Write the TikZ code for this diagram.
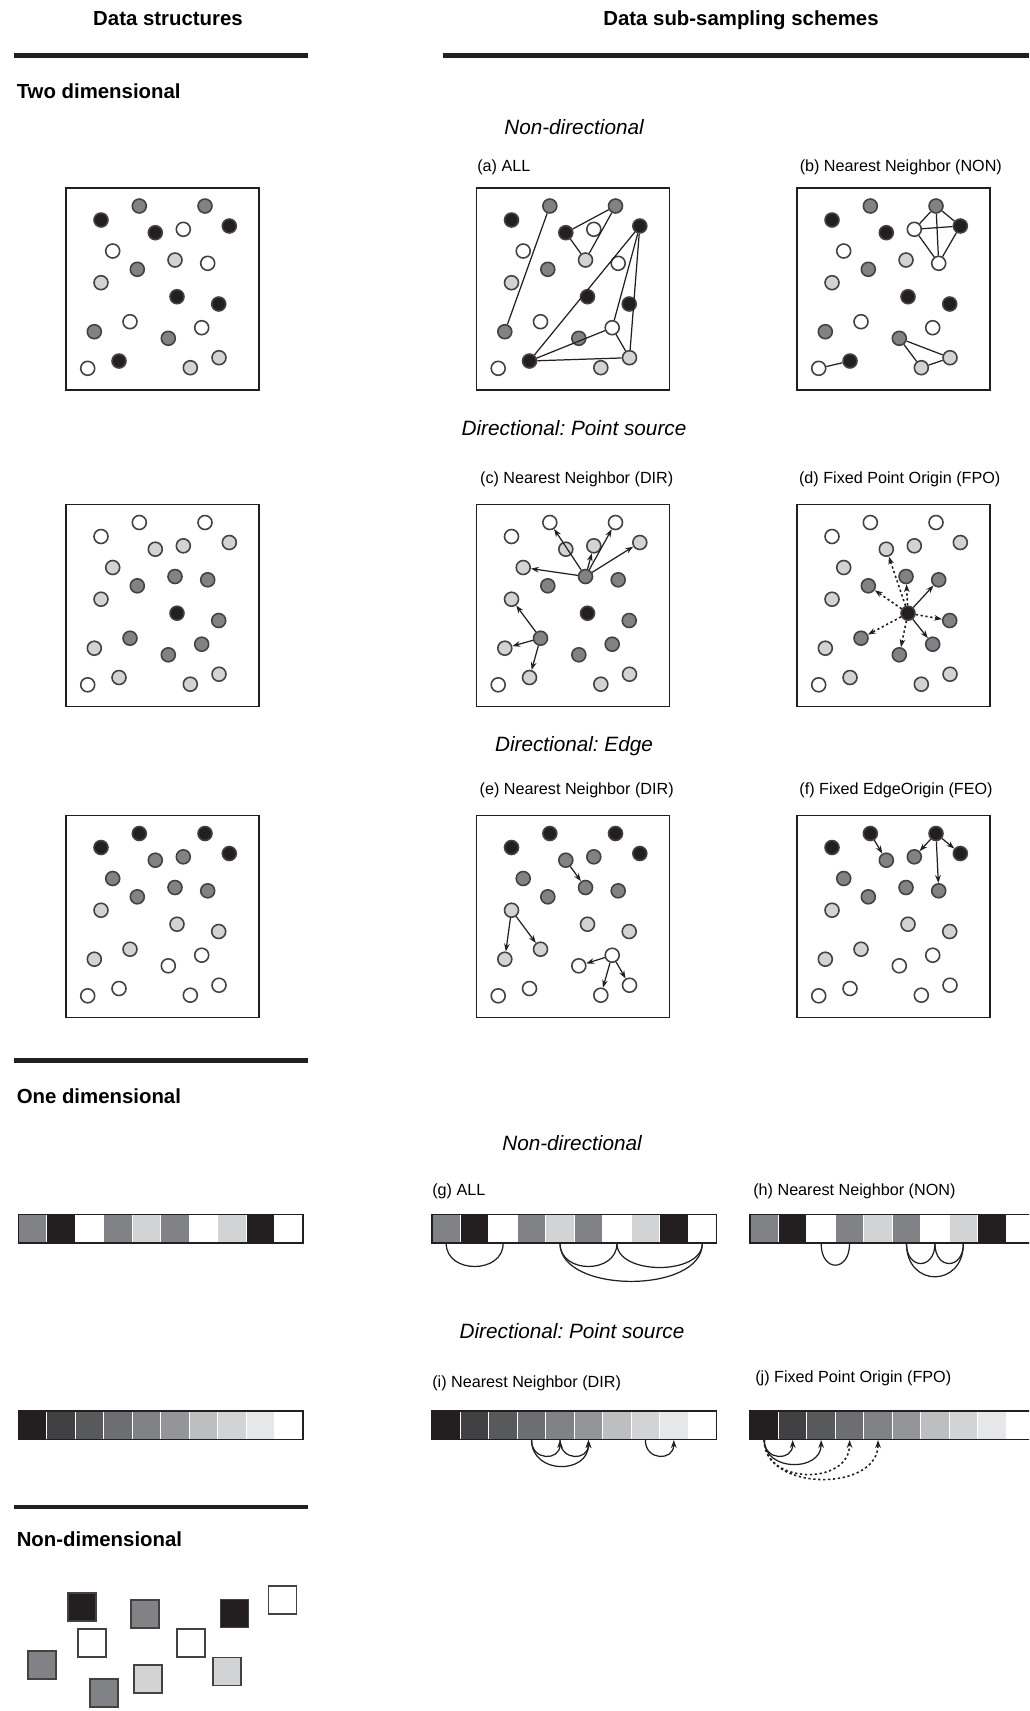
\documentclass[tikz,border=0pt]{standalone}
\usepackage{fontspec}
\setmainfont{Liberation Sans}
\usetikzlibrary{arrows.meta}
\frenchspacing
\definecolor{cK}{HTML}{231F20}
\definecolor{cG}{HTML}{808285}
\definecolor{cL}{HTML}{D1D3D4}
\definecolor{cW}{HTML}{FFFFFF}
\definecolor{ink}{HTML}{231F20}
\definecolor{d1}{HTML}{231F20}
\definecolor{d2}{HTML}{414042}
\definecolor{d3}{HTML}{58595B}
\definecolor{d4}{HTML}{6D6E71}
\definecolor{d5}{HTML}{808285}
\definecolor{d6}{HTML}{939598}
\definecolor{d7}{HTML}{BCBEC0}
\definecolor{d8}{HTML}{D1D3D4}
\definecolor{d9}{HTML}{E6E7E8}
\definecolor{d10}{HTML}{FFFFFF}
\def\LX{{73.3,139,35,89.3,117.3,163.3,46.7,109,141.7,71.3,35,111,152.7,64,135.7,28.3,102.3,153,53,21.7,124.3}}
\def\LY{{18,18,32,44.7,41.3,38,63,72,75.3,81.3,94.7,108.7,116,133.7,139.7,143.7,150.3,169.7,173,180.3,179.7}}
\newcommand\ptbox[4]{%
  \draw[boxline] (#2,-#3) rectangle ++(193,-202);
  \foreach \c [count=\i] in {#4} {
    \pgfmathsetmacro\px{#2+\LX[\i-1]}
    \pgfmathsetmacro\py{-(#3+\LY[\i-1])}
    \node[pt, fill=c\c] (#1\i) at (\px,\py) {};
  }
}
\newcommand\cellbar[4]{%
  \foreach \c [count=\i] in {#4} {
    \node[cell, fill=\c] (#1\i) at ({#2+(\i-0.5)*28.45},{-#3-14.25}) {};
  }
  \draw[barline] (#2,-#3) rectangle ++(284.5,-28.5);
}
\tikzset{
  head/.style={font=\fontsize{11.6}{13}\selectfont\bfseries, inner sep=0pt, anchor=mid},
  sec/.style={head, anchor=mid west},
  ital/.style={font=\fontsize{11.8}{14}\selectfont\itshape, inner sep=0pt, anchor=mid},
  sub/.style={font=\fontsize{9.2}{11}\selectfont, inner sep=0pt, anchor=mid},
  boxline/.style={draw=ink, line width=1.1pt},
  rule/.style={draw=ink, line width=2.6pt},
  pt/.style={circle, draw=ink!85, line width=0.9pt, minimum size=0.28cm, inner sep=0pt},
  cell/.style={rectangle, draw=white, line width=0.6pt, minimum width=0.569cm, minimum height=0.57cm, inner sep=0pt},
  barline/.style={draw=ink, line width=1pt},
  sq/.style={rectangle, draw=ink!85, line width=1pt, minimum size=0.56cm, inner sep=0pt},
  edge/.style={draw=ink, line width=0.7pt},
  arr/.style={edge, -{Stealth[length=4.5pt,width=3.2pt]}},
  dsh/.style={arr, line width=0.9pt, dash pattern=on 1.3pt off 1.5pt},
}
\begin{document}
\begin{tikzpicture}[x=0.02cm, y=0.02cm]
\useasboundingbox (0,0) rectangle (1029,-1711);
\fill[white] (0,0) rectangle (1029,-1711);
\clip (0,0) rectangle (1029,-1711);

% headers and rules
\node[head] (t1) at (168,-21) {Data structures};
\node[head] (t2) at (741,-21) {Data sub-sampling schemes};
\draw[rule] (14,-55.7) -- (308,-55.7);
\draw[rule] (443,-55.7) -- (1029,-55.7);
\draw[rule] (14,-1060.7) -- (308,-1060.7);
\draw[rule] (14,-1507) -- (308,-1507);

\node[sec] (s1) at (16.4,-93.5) {Two dimensional};
\node[sec] (s2) at (16.4,-1098.5) {One dimensional};
\node[sec] (s3) at (16.4,-1541.5) {Non-dimensional};

\node[ital] (n1) at (574,-129.5) {Non-directional};
\node[ital] (n2) at (574,-430.7) {Directional: Point source};
\node[ital] (n3) at (574,-747) {Directional: Edge};
\node[ital] (n4) at (572,-1145.4) {Non-directional};
\node[ital] (n5) at (572,-1334.2) {Directional: Point source};

\node[sub, anchor=mid west] (la) at (477,-167) {(a) ALL};
\node[sub] (lb) at (900.8,-167) {(b) Nearest Neighbor (NON)};
\node[sub] (lc) at (576.7,-479) {(c) Nearest Neighbor (DIR)};
\node[sub] (ld) at (899.7,-479) {(d) Fixed Point Origin (FPO)};
\node[sub] (le) at (576.7,-790) {(e) Nearest Neighbor (DIR)};
\node[sub] (lf) at (896,-790) {(f) Fixed EdgeOrigin (FEO)};
\node[sub, anchor=mid west] (lg) at (432,-1190.4) {(g) ALL};
\node[sub, anchor=mid west] (lh) at (753,-1190.4) {(h) Nearest Neighbor (NON)};
\node[sub, anchor=mid west] (li) at (432,-1382.5) {(i) Nearest Neighbor (DIR)};
\node[sub, anchor=mid west] (lj) at (755,-1378) {(j) Fixed Point Origin (FPO)};

% two-dimensional boxes
\ptbox{P}{66}{188}{G,G,K,K,W,K,W,L,W,G,L,K,K,W,W,G,G,L,K,W,L}
\ptbox{A}{476.5}{188}{G,G,K,K,W,K,W,L,W,G,L,K,K,W,W,G,G,L,K,W,L}
\ptbox{B}{797}{188}{G,G,K,K,W,K,W,L,W,G,L,K,K,W,W,G,G,L,K,W,L}
\ptbox{Q}{66}{504.5}{W,W,W,L,L,L,L,G,G,G,L,K,G,G,G,L,G,L,L,W,L}
\ptbox{C}{476.5}{504.5}{W,W,W,L,L,L,L,G,G,G,L,K,G,G,G,L,G,L,L,W,L}
\ptbox{D}{797}{504.5}{W,W,W,L,L,L,L,G,G,G,L,K,G,G,G,L,G,L,L,W,L}
\ptbox{R}{66}{815.5}{K,K,K,G,G,K,G,G,G,G,L,L,L,L,W,L,W,W,W,W,W}
\ptbox{E}{476.5}{815.5}{K,K,K,G,G,K,G,G,G,G,L,L,L,L,W,L,W,W,W,W,W}
\ptbox{F}{797}{815.5}{K,K,K,G,G,K,G,G,G,G,L,L,L,L,W,L,W,W,W,W,W}

% (a) ALL
\draw[edge] (A1) -- (A16);
\draw[edge] (A2) -- (A4);
\draw[edge] (A4) -- (A8);
\draw[edge] (A8) -- (A2);
\draw[edge] (A6) -- (A19);
\draw[edge] (A6) -- (A15);
\draw[edge] (A6) -- (A18);
\draw[edge] (A19) -- (A18);
\draw[edge] (A19) -- (A15);
\draw[edge] (A15) -- (A18);
% (b) NON
\draw[edge] (B2) -- (B5);
\draw[edge] (B2) -- (B6);
\draw[edge] (B5) -- (B6);
\draw[edge] (B5) -- (B9);
\draw[edge] (B6) -- (B9);
\draw[edge] (B2) -- (B9);
\draw[edge] (B20) -- (B19);
\draw[edge] (B17) -- (B18);
\draw[edge] (B17) -- (B21);
\draw[edge] (B21) -- (B18);
% (c) DIR
\foreach \t in {1,5,2,6,7} \draw[arr] (C8) -- (C\t);
\foreach \t in {11,16,19} \draw[arr] (C14) -- (C\t);
% (d) FPO
\draw[arr] (D12) -- (D9);
\draw[arr] (D12) -- (D15);
\foreach \t in {4,10,8,13,17,14} \draw[dsh] (D12) -- (D\t);
% (e) DIR edge
\draw[arr] (E4) -- (E8);
\draw[arr] (E11) -- (E16);
\draw[arr] (E11) -- (E14);
\draw[arr] (E15) -- (E17);
\draw[arr] (E15) -- (E21);
\draw[arr] (E15) -- (E18);
% (f) FEO
\draw[arr] (F1) -- (F4);
\draw[arr] (F2) -- (F5);
\draw[arr] (F2) -- (F6);
\draw[arr] (F2) -- (F9);

% one-dimensional bars
\cellbar{U}{18.5}{1214.5}{cG,cK,cW,cG,cL,cG,cW,cL,cK,cW}
\cellbar{GA}{432}{1214.5}{cG,cK,cW,cG,cL,cG,cW,cL,cK,cW}
\cellbar{HA}{750}{1214.5}{cG,cK,cW,cG,cL,cG,cW,cL,cK,cW}
\cellbar{V}{18.5}{1411}{d1,d2,d3,d4,d5,d6,d7,d8,d9,d10}
\cellbar{IA}{432}{1411}{d1,d2,d3,d4,d5,d6,d7,d8,d9,d10}
\cellbar{JA}{750}{1411}{d1,d2,d3,d4,d5,d6,d7,d8,d9,d10}

% (g) ALL arcs
\draw[edge] (GA1.south) to[out=-90,in=-90,looseness=1.38] (GA3.south);
\draw[edge] (GA5.south) to[out=-90,in=-90,looseness=1.38] (GA7.south);
\draw[edge] (GA7.south) to[out=-90,in=-90,looseness=0.96] (GA10.south);
\draw[edge] (GA5.south) to[out=-90,in=-90,looseness=0.91] (GA10.south);
% (h) NON arcs
\draw[edge] (HA3.south) to[out=-90,in=-90,looseness=2.6] (HA4.south);
\draw[edge] (HA6.south) to[out=-90,in=-90,looseness=2.4] (HA7.south);
\draw[edge] (HA7.south) to[out=-90,in=-90,looseness=2.4] (HA8.south);
\draw[edge] (HA6.south) to[out=-90,in=-90,looseness=2.0] (HA8.south);
% (i) DIR arcs
\draw[arr] (IA4.south) to[out=-90,in=-90,looseness=1.9] (IA5.south);
\draw[arr] (IA5.south) to[out=-90,in=-90,looseness=1.9] (IA6.south);
\draw[arr] (IA4.south) to[out=-90,in=-90,looseness=1.56] (IA6.south);
\draw[arr] (IA8.south) to[out=-90,in=-90,looseness=1.9] (IA9.south);
% (j) FPO arcs
\draw[arr] (JA1.south) to[out=-90,in=-90,looseness=1.9] (JA2.south);
\draw[arr] (JA1.south) to[out=-90,in=-90,looseness=1.44] (JA3.south);
\draw[dsh] (JA1.south) to[out=-90,in=-90,looseness=1.36] (JA4.south);
\draw[dsh] (JA1.south) to[out=-90,in=-90,looseness=1.17] (JA5.south);

% non-dimensional squares
\node[sq, fill=cK] (q1) at (82.2,-1606.7) {};
\node[sq, fill=cG] (q2) at (144.8,-1613.8) {};
\node[sq, fill=cK] (q3) at (234.5,-1613.5) {};
\node[sq, fill=cW] (q4) at (282.5,-1599.7) {};
\node[sq, fill=cW] (q5) at (91.8,-1642.7) {};
\node[sq, fill=cW] (q6) at (190.7,-1642.7) {};
\node[sq, fill=cG] (q7) at (41.7,-1665.2) {};
\node[sq, fill=cL] (q8) at (147.7,-1679.2) {};
\node[sq, fill=cL] (q9) at (226.7,-1671.5) {};
\node[sq, fill=cG] (q10) at (104.3,-1693.3) {};
\end{tikzpicture}
\end{document}
